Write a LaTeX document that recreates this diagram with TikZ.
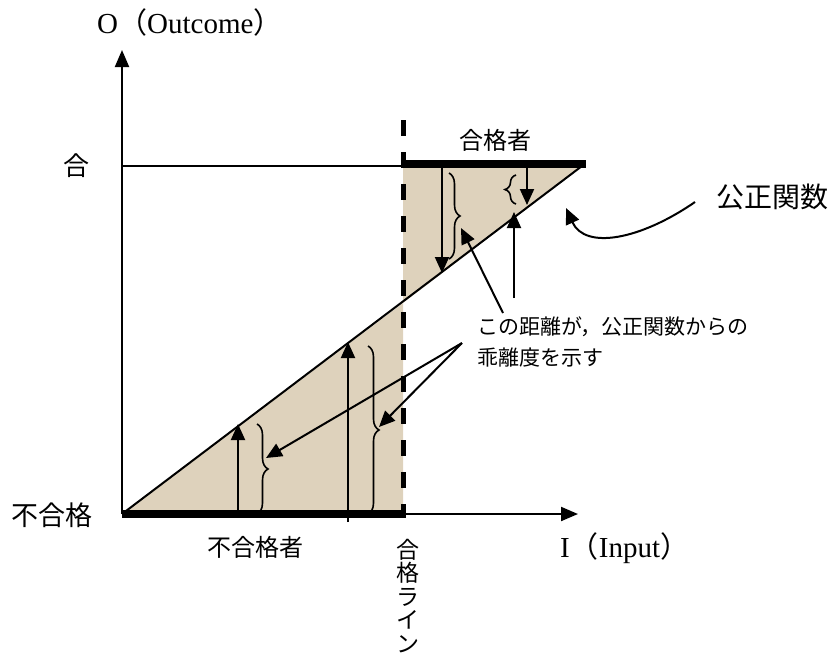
\documentclass[tikz,border=0pt]{standalone}
\usepackage{fontspec}
\setmainfont{Liberation Serif}
\newfontfamily\jp{Noto Sans CJK JP}
\usetikzlibrary{arrows.meta,decorations.pathreplacing}
\definecolor{tan}{RGB}{222,210,188}
\tikzset{
  thinln/.style={line width=1.8pt},
  thickln/.style={line width=8pt},
  arr/.style={line width=2pt,-{Triangle[length=16pt,width=14pt]}},
  axisarr/.style={line width=2pt,-{Triangle[length=17pt,width=14pt]}},
  br/.style={decorate,decoration={brace,amplitude=11pt},line width=1.6pt},
  jlbl/.style={font=\jp\fontsize{#1}{#1}\selectfont,inner sep=0pt},
  elbl/.style={font=\fontsize{29}{29}\selectfont,inner sep=0pt},
}
\begin{document}
\begin{tikzpicture}[x=1pt,y=-1pt]
\useasboundingbox (0,0) rectangle (831,657);
% coordinates
\coordinate (O) at (122,514);
\coordinate (Ytip) at (122,50);
\coordinate (Xtip) at (578,514);
\coordinate (P) at (403,303);
\coordinate (TR) at (582,166);
\coordinate (PT) at (403,166);
\coordinate (PB) at (403,514);
% shading
\fill[tan] (O) -- (PB) -- (P) -- cycle;
\fill[tan] (403,168) -- (580,168) -- (P) -- cycle;
% axes
\draw[axisarr] (O) -- (Ytip);
\draw[axisarr] (PB) -- (Xtip);
\draw[thinln] (122,166) -- (PT);
% diagonal
\draw[line width=2pt] (O) -- (TR);
% thick bars
\draw[thickln] (O) -- (PB);
\draw[thickln] (403,164) -- (586,164);
% dashed pass line
\draw[line width=5pt,dash pattern=on 16pt off 16pt] (403,120) -- (403,518);
% upper arrows
\draw[arr] (442,168) -- (442,273);
\draw[br] (449,173) -- (449,259);
\draw[arr] (527,168) -- (527,205);
\draw[br] (516,204) -- (516,175);
\draw[arr] (514,298) -- (514,212);
\draw[arr] (503,313) -- (461,228);
% lower arrows
\draw[arr] (238,514) -- (238,424);
\draw[br] (257,424) -- (257,514);
\draw[arr] (348,522) -- (348,342);
\draw[br] (368,346) -- (368,514);
\draw[arr] (462,343) -- (266,458);
\draw[arr] (462,343) -- (379,427);
% curved arrow
\draw[arr] (695,202) .. controls (640,240) and (585,250) .. (566,208);
% labels
\node[elbl,anchor=base west] (lo) at (97,33) {O{\jp（}Outcome{\jp）}};
\node[elbl,anchor=base west] (li) at (560,557) {I{\jp（}Input{\jp）}};
\node[jlbl=26] (lg) at (76,166) {合};
\node[jlbl=27] (lf) at (52,515) {不合格};
\node[jlbl=24] (lfs) at (255,547) {不合格者};
\node[jlbl=24] (lgs) at (495,140) {合格者};
\node[jlbl=28] (lk) at (772,197) {公正関数};
\node[jlbl=21,anchor=north west,align=left,font=\jp\fontsize{21}{31}\selectfont] (lt) at (477,317) {この距離が，公正関数からの\\乖離度を示す};
\node[jlbl=23,anchor=north,align=center,font=\jp\fontsize{23}{23.5}\selectfont] (lv) at (408,539) {合\\格\\ラ\\イ\\ン};
\end{tikzpicture}
\end{document}
